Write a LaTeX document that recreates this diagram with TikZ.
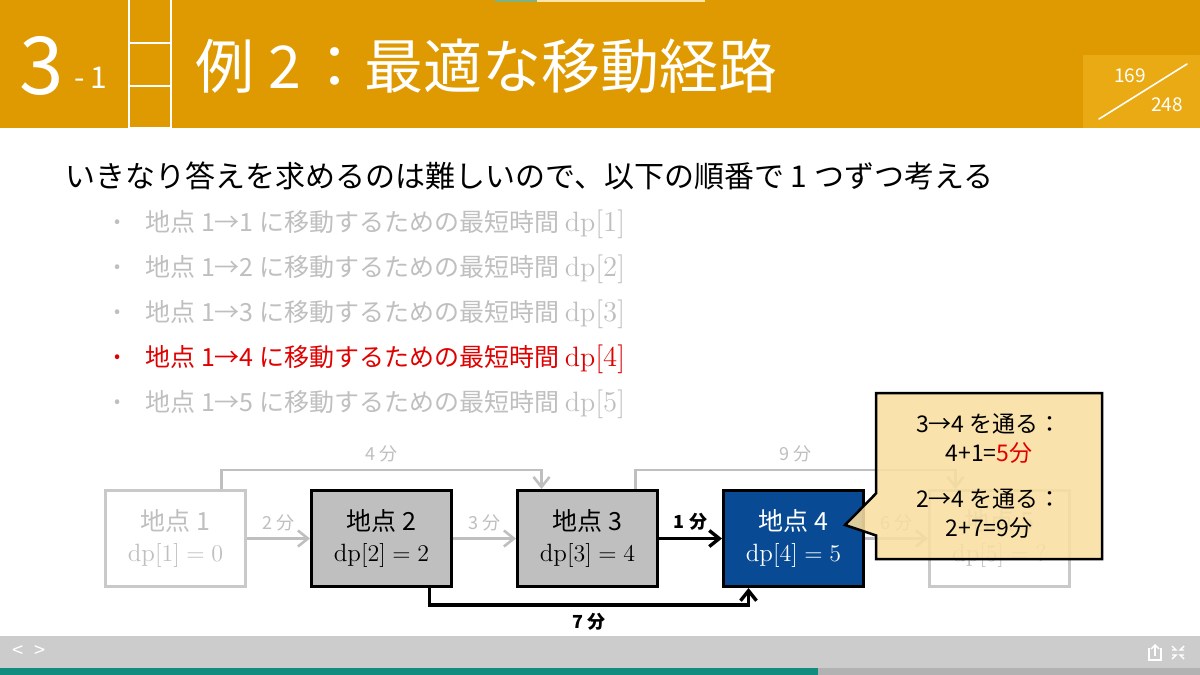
\documentclass[tikz,border=0pt]{standalone}
\usepackage{fontspec}
\setmainfont{Noto Sans CJK JP}
\setmathrm{Latin Modern Roman}
\usetikzlibrary{arrows.meta, shapes.callouts}

\definecolor{barorange}{RGB}{222,154,0}
\definecolor{pageorange}{RGB}{234,170,20}
\definecolor{lgray}{RGB}{191,191,191}
\definecolor{boxgray}{RGB}{191,191,191}
\definecolor{deepblue}{RGB}{8,74,148}
\definecolor{hired}{RGB}{224,0,0}
\definecolor{notefill}{RGB}{249,222,160}
\definecolor{footgray}{RGB}{204,204,204}
\definecolor{footteal}{RGB}{18,140,126}

\begin{document}
\begin{tikzpicture}[x=0.5pt, y=-0.5pt, >={Straight Barb[length=5pt,width=8pt]},
    spot/.style={draw, line width=1.5pt, minimum width=70pt, minimum height=48pt,
      inner sep=0pt, align=center, font=\fontsize{12.5}{15.5}\selectfont},
    faded/.style={spot, draw=lgray!85!white, fill=white, text=lgray},
    done/.style={spot, draw=black, fill=boxgray},
    now/.style={spot, draw=black, fill=deepblue, text=white},
    grayline/.style={->, draw=lgray, line width=1.3pt},
    blackline/.style={->, draw=black, line width=1.7pt},
    cost/.style={font=\fontsize{9}{10}\selectfont, text=lgray},
    boldcost/.style={font=\fontsize{9}{10}\selectfont\bfseries, text=black}]
\useasboundingbox (0,0) rectangle (1200,675);
\fill[white] (0,0) rectangle (1200,675);

% header
\fill[barorange] (0,0) rectangle (1200,128);
\fill[black!60!green!50] (495,0) rectangle (537,2);
\fill[yellow!40!orange!30] (537,0) rectangle (705,2);
\draw[white, line width=1pt] (129,-1) rectangle (171,128);
\draw[white, line width=1pt] (129,43) -- (171,43) (129,86) -- (171,86);
\node[text=white, font=\fontsize{40}{40}\selectfont] (chap) at (42,66) {3};
\node[text=white, font=\fontsize{15}{15}\selectfont] (sub) at (91,78) {-\,1};
\node[anchor=west, inner sep=0pt, text=white, font=\fontsize{29.5}{29.5}\selectfont] (title) at (195,66)
  {例\hspace{7pt}2\hspace{2pt}：最適な移動経路};
\fill[pageorange] (1083,55) rectangle (1200,128);
\draw[white, line width=0.8pt, line cap=round] (1099,119) -- (1187,64);
\node[text=white, font=\fontsize{9.5}{10}\selectfont] (pnow) at (1130,76) {169};
\node[text=white, font=\fontsize{9.5}{10}\selectfont] (pall) at (1167,105) {248};

% text
\node[anchor=west, inner sep=0pt, font=\fontsize{15}{15}\selectfont] (lead) at (65,176)
  {いきなり答えを求めるのは難しいので、以下の順番で 1 つずつ考える};
\foreach \i/\c in {1/lgray, 2/lgray, 3/lgray, 4/hired, 5/lgray} {
  \node[text=\c, font=\fontsize{9}{9}\selectfont] (b\i) at (118,179+45*\i) {•};
  \node[anchor=west, inner sep=0pt, text=\c, font=\fontsize{12.5}{12.5}\selectfont] (t\i) at (145,179+45*\i)
    {地点 1→\i\ に移動するための最短時間 {\fontsize{14}{14}\selectfont$\mathrm{dp}[\i]$}};
}

% graph
\node[faded] (p1) at (175.5,538.5) {地点 1\\$\mathrm{dp}[1] = 0$};
\node[done] (p2) at (381.5,538.5) {地点 2\\$\mathrm{dp}[2] = 2$};
\node[done] (p3) at (587.5,538.5) {地点 3\\$\mathrm{dp}[3] = 4$};
\node[now] (p4) at (793.5,538.5) {地点 4\\$\mathrm{dp}[4] = 5$};
\node[faded] (p5) at (999.5,538.5) {地点 5\\$\mathrm{dp}[5] = \;?$};

\draw[grayline] (p1) -- node[cost, above] {2 分} (p2);
\draw[grayline] (p2) -- node[cost, above] {3 分} (p3);
\draw[blackline] (p3) -- node[boldcost, above] {1 分} (p4);
\draw[grayline] (p4) -- node[cost, above] {6 分} (p5);
\draw[grayline] ([xshift=23pt]p1.north) -- ++(0,-19) -| node[cost, pos=0.25, above] {4 分} ([xshift=-23pt]p3.north);
\draw[grayline] ([xshift=24pt]p3.north) -- ++(0,-19) -| node[cost, pos=0.25, above] {9 分} ([xshift=-22pt]p5.north);
\draw[blackline] ([xshift=24pt]p2.south) -- ++(0,17) -| node[boldcost, pos=0.25, below=0pt] {7 分} ([xshift=-22.5pt]p4.south);

% note
\node[rectangle callout, callout absolute pointer={(845,525)}, callout pointer width=21pt,
  draw=black, line width=1.25pt, fill=notefill, fill opacity=0.88, text opacity=1,
  minimum width=113pt, minimum height=83pt, align=center,
  font=\fontsize{11.5}{14.5}\selectfont] (note) at (989,476)
  {3→4 を通る：\\4+1=\textcolor{hired}{5分}\\[8.5pt]2→4 を通る：\\2+7=9分};

% footer
\fill[footgray] (0,636) rectangle (1200,668);
\fill[footteal] (0,668) rectangle (818,675);
\fill[black!30] (818,668) rectangle (1200,675);
\node[text=white, font=\fontsize{10}{10}\selectfont] (prev) at (18,652) {<};
\node[text=white, font=\fontsize{10}{10}\selectfont] (next) at (40,652) {>};
\draw[white, line width=0.7pt] (1149,648) -- (1149,660) -- (1161,660) -- (1161,648);
\draw[white, line width=0.7pt, -{Straight Barb[length=2pt,width=4pt]}] (1155,656) -- (1155,644);
\draw[white, line width=0.7pt] (1172,646) -- (1176,650) -- (1172,650) (1184,646) -- (1180,650) -- (1184,650)
  (1172,659) -- (1176,655) -- (1172,655) (1184,659) -- (1180,655) -- (1184,655);
\end{tikzpicture}
\end{document}
